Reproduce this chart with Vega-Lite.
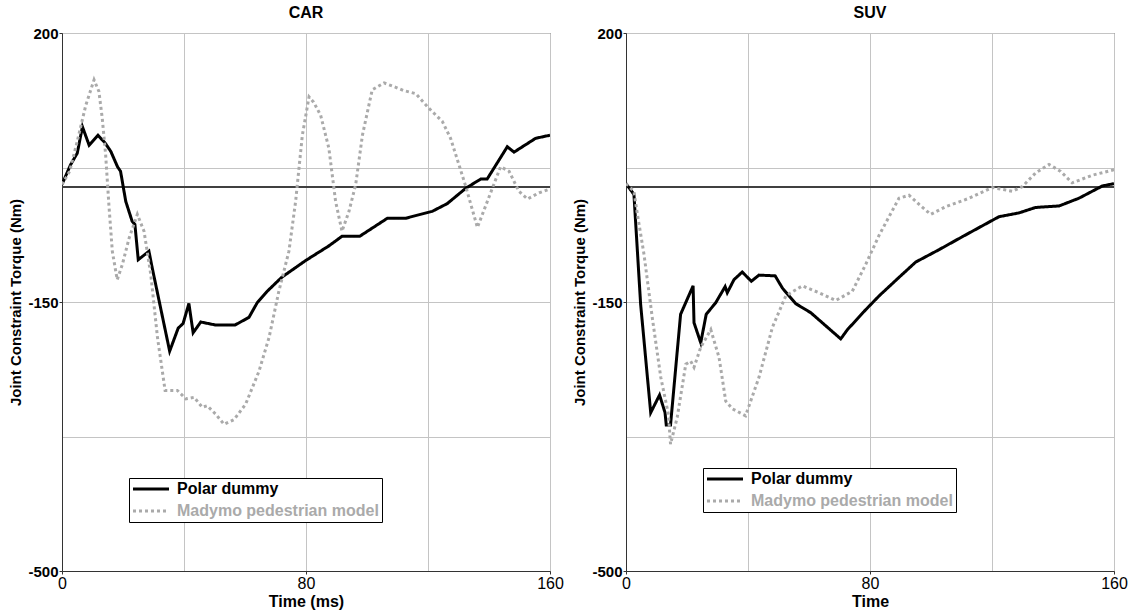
{
  "$schema": "https://vega.github.io/schema/vega-lite/v6.json",
  "background": "white",
  "padding": {"left": 8, "top": 4, "right": 0, "bottom": 0},
  "spacing": 76,
  "bounds": "flush",
  "config": {
    "font": "Liberation Sans",
    "view": {"stroke": "#333333", "strokeWidth": 1},
    "axis": {
      "domainColor": "#333333",
      "tickColor": "#333333",
      "labelColor": "black",
      "titleColor": "black",
      "gridColor": "#c4c4c4",
      "gridWidth": 1,
      "labelFont": "Liberation Sans",
      "titleFont": "Liberation Sans",
      "titleFontWeight": "bold"
    },
    "title": {"fontSize": 16, "fontWeight": "bold", "offset": 5, "anchor": "middle", "font": "Liberation Sans", "color": "black"},
    "legend": {
      "orient": "none",
      "title": null,
      "direction": "vertical",
      "strokeColor": "black",
      "fillColor": "white",
      "padding": 3,
      "symbolType": "M-3,0H3",
      "symbolSize": 144,
      "symbolStrokeWidth": 3,
      "symbolOffset": 11,
      "labelFont": "Liberation Sans",
      "labelFontSize": 16,
      "labelFontWeight": "bold",
      "labelOffset": 18,
      "rowPadding": 6,
      "labelLimit": 400
    }
  },
  "datasets": {
    "car": [
      {"series": "Polar dummy", "time": 0, "torque": 3},
      {"series": "Polar dummy", "time": 2.8, "torque": 28.5},
      {"series": "Polar dummy", "time": 5.0, "torque": 43.6},
      {"series": "Polar dummy", "time": 6.7, "torque": 78},
      {"series": "Polar dummy", "time": 8.9, "torque": 54},
      {"series": "Polar dummy", "time": 11.8, "torque": 67},
      {"series": "Polar dummy", "time": 14.1, "torque": 57},
      {"series": "Polar dummy", "time": 16.0, "torque": 46},
      {"series": "Polar dummy", "time": 18.2, "torque": 26},
      {"series": "Polar dummy", "time": 19.2, "torque": 20},
      {"series": "Polar dummy", "time": 20.9, "torque": -19},
      {"series": "Polar dummy", "time": 23.0, "torque": -45},
      {"series": "Polar dummy", "time": 23.9, "torque": -49},
      {"series": "Polar dummy", "time": 25.0, "torque": -95},
      {"series": "Polar dummy", "time": 28.5, "torque": -84},
      {"series": "Polar dummy", "time": 29.6, "torque": -106},
      {"series": "Polar dummy", "time": 35.3, "torque": -214},
      {"series": "Polar dummy", "time": 38.1, "torque": -184},
      {"series": "Polar dummy", "time": 39.7, "torque": -178},
      {"series": "Polar dummy", "time": 41.6, "torque": -152},
      {"series": "Polar dummy", "time": 43.0, "torque": -190},
      {"series": "Polar dummy", "time": 45.5, "torque": -176},
      {"series": "Polar dummy", "time": 50.4, "torque": -180},
      {"series": "Polar dummy", "time": 56.7, "torque": -180},
      {"series": "Polar dummy", "time": 61.3, "torque": -170},
      {"series": "Polar dummy", "time": 64.0, "torque": -151},
      {"series": "Polar dummy", "time": 67.3, "torque": -136},
      {"series": "Polar dummy", "time": 72.0, "torque": -118},
      {"series": "Polar dummy", "time": 79.9, "torque": -96},
      {"series": "Polar dummy", "time": 87.5, "torque": -77},
      {"series": "Polar dummy", "time": 91.8, "torque": -64.5},
      {"series": "Polar dummy", "time": 97.6, "torque": -64.5},
      {"series": "Polar dummy", "time": 106.7, "torque": -41},
      {"series": "Polar dummy", "time": 112.7, "torque": -41},
      {"series": "Polar dummy", "time": 121.4, "torque": -32},
      {"series": "Polar dummy", "time": 126.3, "torque": -22},
      {"series": "Polar dummy", "time": 132.4, "torque": -2},
      {"series": "Polar dummy", "time": 137.3, "torque": 10},
      {"series": "Polar dummy", "time": 139.4, "torque": 10},
      {"series": "Polar dummy", "time": 146.0, "torque": 52},
      {"series": "Polar dummy", "time": 148.2, "torque": 45},
      {"series": "Polar dummy", "time": 155.3, "torque": 63},
      {"series": "Polar dummy", "time": 160, "torque": 67},
      {"series": "Madymo pedestrian model", "time": 0, "torque": 3},
      {"series": "Madymo pedestrian model", "time": 2.5, "torque": 20},
      {"series": "Madymo pedestrian model", "time": 5.0, "torque": 59},
      {"series": "Madymo pedestrian model", "time": 7.8, "torque": 106},
      {"series": "Madymo pedestrian model", "time": 10.5, "torque": 139},
      {"series": "Madymo pedestrian model", "time": 12.1, "torque": 124},
      {"series": "Madymo pedestrian model", "time": 13.2, "torque": 89},
      {"series": "Madymo pedestrian model", "time": 14.3, "torque": 42},
      {"series": "Madymo pedestrian model", "time": 15.4, "torque": -25},
      {"series": "Madymo pedestrian model", "time": 16.5, "torque": -84},
      {"series": "Madymo pedestrian model", "time": 18.1, "torque": -121},
      {"series": "Madymo pedestrian model", "time": 19.8, "torque": -101},
      {"series": "Madymo pedestrian model", "time": 22.0, "torque": -67},
      {"series": "Madymo pedestrian model", "time": 24.7, "torque": -36},
      {"series": "Madymo pedestrian model", "time": 26.9, "torque": -58},
      {"series": "Madymo pedestrian model", "time": 29.1, "torque": -114},
      {"series": "Madymo pedestrian model", "time": 31.3, "torque": -196},
      {"series": "Madymo pedestrian model", "time": 33.8, "torque": -265},
      {"series": "Madymo pedestrian model", "time": 37.8, "torque": -265},
      {"series": "Madymo pedestrian model", "time": 40.6, "torque": -276},
      {"series": "Madymo pedestrian model", "time": 43.3, "torque": -274},
      {"series": "Madymo pedestrian model", "time": 46.0, "torque": -287},
      {"series": "Madymo pedestrian model", "time": 47.6, "torque": -285},
      {"series": "Madymo pedestrian model", "time": 50.4, "torque": -296},
      {"series": "Madymo pedestrian model", "time": 53.1, "torque": -309},
      {"series": "Madymo pedestrian model", "time": 56.4, "torque": -303},
      {"series": "Madymo pedestrian model", "time": 60.2, "torque": -283},
      {"series": "Madymo pedestrian model", "time": 64.6, "torque": -240},
      {"series": "Madymo pedestrian model", "time": 67.9, "torque": -196},
      {"series": "Madymo pedestrian model", "time": 71.1, "torque": -136},
      {"series": "Madymo pedestrian model", "time": 74.4, "torque": -84},
      {"series": "Madymo pedestrian model", "time": 76.6, "torque": -19},
      {"series": "Madymo pedestrian model", "time": 78.8, "torque": 67},
      {"series": "Madymo pedestrian model", "time": 81.0, "torque": 117},
      {"series": "Madymo pedestrian model", "time": 82.5, "torque": 110},
      {"series": "Madymo pedestrian model", "time": 84.8, "torque": 93},
      {"series": "Madymo pedestrian model", "time": 87.5, "torque": 50},
      {"series": "Madymo pedestrian model", "time": 89.7, "torque": -19},
      {"series": "Madymo pedestrian model", "time": 91.8, "torque": -58},
      {"series": "Madymo pedestrian model", "time": 94.1, "torque": -32},
      {"series": "Madymo pedestrian model", "time": 96.3, "torque": 3},
      {"series": "Madymo pedestrian model", "time": 98.5, "torque": 67},
      {"series": "Madymo pedestrian model", "time": 101.7, "torque": 126},
      {"series": "Madymo pedestrian model", "time": 105.6, "torque": 135},
      {"series": "Madymo pedestrian model", "time": 109.0, "torque": 130},
      {"series": "Madymo pedestrian model", "time": 112.1, "torque": 125},
      {"series": "Madymo pedestrian model", "time": 116.0, "torque": 121},
      {"series": "Madymo pedestrian model", "time": 120.3, "torque": 102},
      {"series": "Madymo pedestrian model", "time": 124.7, "torque": 85},
      {"series": "Madymo pedestrian model", "time": 127.4, "torque": 63},
      {"series": "Madymo pedestrian model", "time": 130.2, "torque": 28},
      {"series": "Madymo pedestrian model", "time": 132.4, "torque": 0},
      {"series": "Madymo pedestrian model", "time": 136.2, "torque": -53},
      {"series": "Madymo pedestrian model", "time": 141.1, "torque": -2},
      {"series": "Madymo pedestrian model", "time": 143.8, "torque": 26},
      {"series": "Madymo pedestrian model", "time": 146.6, "torque": 20},
      {"series": "Madymo pedestrian model", "time": 149.8, "torque": -6},
      {"series": "Madymo pedestrian model", "time": 152.6, "torque": -16},
      {"series": "Madymo pedestrian model", "time": 156.4, "torque": -8},
      {"series": "Madymo pedestrian model", "time": 160, "torque": -3}
    ],
    "suv": [
      {"series": "Polar dummy", "time": 0, "torque": 4},
      {"series": "Polar dummy", "time": 2.6, "torque": -10},
      {"series": "Polar dummy", "time": 4.8, "torque": -153},
      {"series": "Polar dummy", "time": 8.1, "torque": -294},
      {"series": "Polar dummy", "time": 11.0, "torque": -271},
      {"series": "Polar dummy", "time": 12.8, "torque": -294},
      {"series": "Polar dummy", "time": 13.2, "torque": -310},
      {"series": "Polar dummy", "time": 14.6, "torque": -310},
      {"series": "Polar dummy", "time": 17.9, "torque": -166},
      {"series": "Polar dummy", "time": 22.0, "torque": -129},
      {"series": "Polar dummy", "time": 22.3, "torque": -177},
      {"series": "Polar dummy", "time": 24.5, "torque": -203},
      {"series": "Polar dummy", "time": 26.3, "torque": -166},
      {"series": "Polar dummy", "time": 29.4, "torque": -151},
      {"series": "Polar dummy", "time": 32.5, "torque": -130},
      {"series": "Polar dummy", "time": 33.2, "torque": -138},
      {"series": "Polar dummy", "time": 35.4, "torque": -121},
      {"series": "Polar dummy", "time": 38.1, "torque": -111},
      {"series": "Polar dummy", "time": 41.1, "torque": -123},
      {"series": "Polar dummy", "time": 43.6, "torque": -115},
      {"series": "Polar dummy", "time": 48.9, "torque": -116},
      {"series": "Polar dummy", "time": 51.3, "torque": -132},
      {"series": "Polar dummy", "time": 55.6, "torque": -152},
      {"series": "Polar dummy", "time": 60.6, "torque": -164},
      {"series": "Polar dummy", "time": 70.4, "torque": -198},
      {"series": "Polar dummy", "time": 72.6, "torque": -186},
      {"series": "Polar dummy", "time": 78.6, "torque": -160},
      {"series": "Polar dummy", "time": 83.0, "torque": -142},
      {"series": "Polar dummy", "time": 89.5, "torque": -118},
      {"series": "Polar dummy", "time": 95.0, "torque": -98},
      {"series": "Polar dummy", "time": 102.6, "torque": -82},
      {"series": "Polar dummy", "time": 110.3, "torque": -65},
      {"series": "Polar dummy", "time": 122.3, "torque": -39},
      {"series": "Polar dummy", "time": 128.9, "torque": -34},
      {"series": "Polar dummy", "time": 134.3, "torque": -27},
      {"series": "Polar dummy", "time": 142.0, "torque": -25},
      {"series": "Polar dummy", "time": 148.5, "torque": -15},
      {"series": "Polar dummy", "time": 156.2, "torque": 1},
      {"series": "Polar dummy", "time": 160, "torque": 4},
      {"series": "Madymo pedestrian model", "time": 0, "torque": 4},
      {"series": "Madymo pedestrian model", "time": 2.6, "torque": -6},
      {"series": "Madymo pedestrian model", "time": 3.7, "torque": -35},
      {"series": "Madymo pedestrian model", "time": 5.9, "torque": -88},
      {"series": "Madymo pedestrian model", "time": 8.6, "torque": -170},
      {"series": "Madymo pedestrian model", "time": 11.4, "torque": -248},
      {"series": "Madymo pedestrian model", "time": 13.9, "torque": -296},
      {"series": "Madymo pedestrian model", "time": 14.6, "torque": -335},
      {"series": "Madymo pedestrian model", "time": 16.8, "torque": -300},
      {"series": "Madymo pedestrian model", "time": 19.6, "torque": -231},
      {"series": "Madymo pedestrian model", "time": 21.2, "torque": -227},
      {"series": "Madymo pedestrian model", "time": 22.3, "torque": -235},
      {"series": "Madymo pedestrian model", "time": 24.5, "torque": -209},
      {"series": "Madymo pedestrian model", "time": 27.8, "torque": -186},
      {"series": "Madymo pedestrian model", "time": 30.5, "torque": -222},
      {"series": "Madymo pedestrian model", "time": 32.7, "torque": -279},
      {"series": "Madymo pedestrian model", "time": 34.9, "torque": -289},
      {"series": "Madymo pedestrian model", "time": 39.2, "torque": -298},
      {"series": "Madymo pedestrian model", "time": 43.6, "torque": -248},
      {"series": "Madymo pedestrian model", "time": 48.0, "torque": -183},
      {"series": "Madymo pedestrian model", "time": 52.4, "torque": -142},
      {"series": "Madymo pedestrian model", "time": 57.8, "torque": -129},
      {"series": "Madymo pedestrian model", "time": 63.3, "torque": -138},
      {"series": "Madymo pedestrian model", "time": 68.8, "torque": -148},
      {"series": "Madymo pedestrian model", "time": 74.2, "torque": -136},
      {"series": "Madymo pedestrian model", "time": 78.6, "torque": -101},
      {"series": "Madymo pedestrian model", "time": 83.0, "torque": -63},
      {"series": "Madymo pedestrian model", "time": 89.5, "torque": -15},
      {"series": "Madymo pedestrian model", "time": 92.8, "torque": -11},
      {"series": "Madymo pedestrian model", "time": 96.1, "torque": -23},
      {"series": "Madymo pedestrian model", "time": 99.9, "torque": -36},
      {"series": "Madymo pedestrian model", "time": 104.8, "torque": -26},
      {"series": "Madymo pedestrian model", "time": 112.5, "torque": -15},
      {"series": "Madymo pedestrian model", "time": 120.1, "torque": -1},
      {"series": "Madymo pedestrian model", "time": 126.7, "torque": -6},
      {"series": "Madymo pedestrian model", "time": 129.9, "torque": 0},
      {"series": "Madymo pedestrian model", "time": 134.3, "torque": 18},
      {"series": "Madymo pedestrian model", "time": 138.7, "torque": 29},
      {"series": "Madymo pedestrian model", "time": 142.5, "torque": 20},
      {"series": "Madymo pedestrian model", "time": 146.3, "torque": 5},
      {"series": "Madymo pedestrian model", "time": 152.9, "torque": 15},
      {"series": "Madymo pedestrian model", "time": 160, "torque": 22}
    ]
  },
  "hconcat": [
    {
      "title": "CAR",
      "width": 488,
      "height": 538,
      "data": {"name": "car"},
      "layer": [
        {
          "mark": {"type": "rule", "color": "#404040", "strokeWidth": 1},
          "encoding": {"y": {"datum": 0, "type": "quantitative"}}
        },
        {
          "mark": {"type": "line", "strokeWidth": 3, "clip": true, "strokeCap": "butt"},
          "encoding": {
            "x": {
              "field": "time", "type": "quantitative",
              "scale": {"domain": [0, 160], "nice": false, "zero": false},
              "axis": {
                "title": "Time (ms)",
                "values": [0, 40, 80, 120, 160],
                "grid": true,
                "labelExpr": "datum.value % 80 === 0 ? toString(datum.value) : ''",
                "tickSize": 3,
                "tickOpacity": {"condition": {"test": "datum.value % 80 !== 0", "value": 0}, "value": 1},
                "labelFontSize": 16,
                "labelFontWeight": "normal",
                "labelPadding": 1,
                "labelFlush": false,
                "labelOverlap": false,
                "titleFontSize": 16,
                "titlePadding": 2
              }
            },
            "y": {
              "field": "torque", "type": "quantitative",
              "scale": {"domain": [-500, 200], "nice": false, "zero": false},
              "axis": {
                "title": "Joint Constraint Torque (Nm)",
                "values": [-500, -325, -150, 25, 200],
                "grid": true,
                "labelExpr": "indexof([200, -150, -500], datum.value) >= 0 ? toString(datum.value) : ''",
                "tickSize": 3,
                "tickOpacity": {"condition": {"test": "datum.value === 25 || datum.value === -325", "value": 0}, "value": 1},
                "labelFontSize": 15,
                "labelFontWeight": "bold",
                "labelPadding": 1,
                "labelFlush": false,
                "labelOverlap": false,
                "titleFontSize": 15,
                "titlePadding": 4
              }
            },
            "color": {
              "field": "series", "type": "nominal",
              "scale": {"domain": ["Polar dummy", "Madymo pedestrian model"], "range": ["#000000", "#aaaaaa"]},
              "legend": {
                "legendX": 67, "legendY": 445,
                "encode": {"labels": {"update": {"fill": {"signal": "datum.value === 'Polar dummy' ? '#000000' : '#aaaaaa'"}}}}
              }
            },
            "strokeDash": {
              "field": "series", "type": "nominal",
              "scale": {"domain": ["Polar dummy", "Madymo pedestrian model"], "range": [[1, 0], [3, 3]]},
              "legend": {
                "legendX": 67, "legendY": 445,
                "encode": {"labels": {"update": {"fill": {"signal": "datum.value === 'Polar dummy' ? '#000000' : '#aaaaaa'"}}}}
              }
            }
          }
        }
      ]
    },
    {
      "title": "SUV",
      "width": 488,
      "height": 538,
      "data": {"name": "suv"},
      "layer": [
        {
          "mark": {"type": "rule", "color": "#404040", "strokeWidth": 1},
          "encoding": {"y": {"datum": 0, "type": "quantitative"}}
        },
        {
          "mark": {"type": "line", "strokeWidth": 3, "clip": true, "strokeCap": "butt"},
          "encoding": {
            "x": {
              "field": "time", "type": "quantitative",
              "scale": {"domain": [0, 160], "nice": false, "zero": false},
              "axis": {
                "title": "Time",
                "values": [0, 40, 80, 120, 160],
                "grid": true,
                "labelExpr": "datum.value % 80 === 0 ? toString(datum.value) : ''",
                "tickSize": 3,
                "tickOpacity": {"condition": {"test": "datum.value % 80 !== 0", "value": 0}, "value": 1},
                "labelFontSize": 16,
                "labelFontWeight": "normal",
                "labelPadding": 1,
                "labelFlush": false,
                "labelOverlap": false,
                "titleFontSize": 16,
                "titlePadding": 2
              }
            },
            "y": {
              "field": "torque", "type": "quantitative",
              "scale": {"domain": [-500, 200], "nice": false, "zero": false},
              "axis": {
                "title": "Joint Constraint Torque (Nm)",
                "values": [-500, -325, -150, 25, 200],
                "grid": true,
                "labelExpr": "indexof([200, -150, -500], datum.value) >= 0 ? toString(datum.value) : ''",
                "tickSize": 3,
                "tickOpacity": {"condition": {"test": "datum.value === 25 || datum.value === -325", "value": 0}, "value": 1},
                "labelFontSize": 15,
                "labelFontWeight": "bold",
                "labelPadding": 1,
                "labelFlush": false,
                "labelOverlap": false,
                "titleFontSize": 15,
                "titlePadding": 4
              }
            },
            "color": {
              "field": "series", "type": "nominal",
              "scale": {"domain": ["Polar dummy", "Madymo pedestrian model"], "range": ["#000000", "#aaaaaa"]},
              "legend": {
                "legendX": 77, "legendY": 435,
                "encode": {"labels": {"update": {"fill": {"signal": "datum.value === 'Polar dummy' ? '#000000' : '#aaaaaa'"}}}}
              }
            },
            "strokeDash": {
              "field": "series", "type": "nominal",
              "scale": {"domain": ["Polar dummy", "Madymo pedestrian model"], "range": [[1, 0], [3, 3]]},
              "legend": {
                "legendX": 77, "legendY": 435,
                "encode": {"labels": {"update": {"fill": {"signal": "datum.value === 'Polar dummy' ? '#000000' : '#aaaaaa'"}}}}
              }
            }
          }
        }
      ]
    }
  ],
  "resolve": {
    "scale": {"color": "independent", "strokeDash": "independent"},
    "legend": {"color": "independent", "strokeDash": "independent"}
  }
}
